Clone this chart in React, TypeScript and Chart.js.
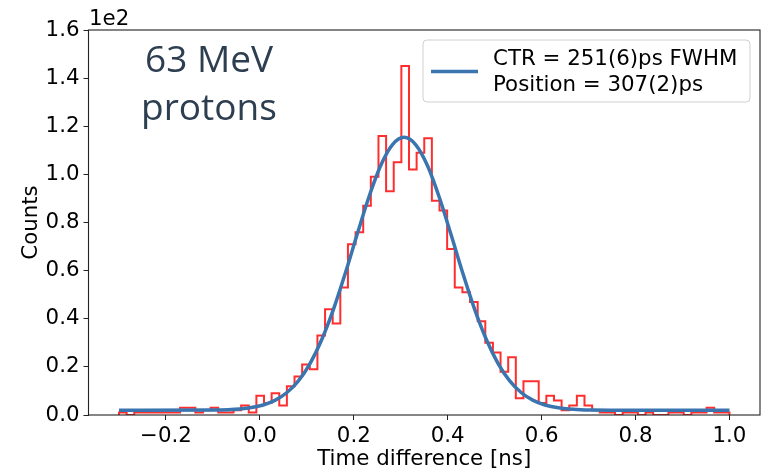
import { useEffect, useRef } from 'react';
import { Chart, registerables } from 'chart.js';

Chart.register(...registerables);

// ---- data ----
const BIN_START = -0.3;
const BIN_END = 1.0;
const binCounts = [
  1, 0, 1, 1, 1, 1, 1, 1, 3, 3, 1, 2, 3, 1, 1, 2, 4, 1, 8, 5,
  9, 4, 12, 16, 21, 19, 33, 44, 38, 53, 71, 76, 87, 99, 116, 93, 105, 145, 102, 109,
  115, 89, 85, 69, 53, 51, 47, 39, 30, 26, 18, 24, 7, 14, 14, 5, 8, 6, 2, 4,
  8, 4, 2, 1, 1, 0, 1, 1, 0, 1, 0, 0, 1, 1, 0, 1, 1, 3, 1, 1,
];
const fitX = [
  -0.3, -0.1, -0.068, -0.043, -0.018, 0.007, 0.032, 0.057, 0.082, 0.107, 0.132, 0.157,
  0.182, 0.207, 0.232, 0.257, 0.282, 0.307, 0.332, 0.357, 0.382, 0.407, 0.432, 0.457,
  0.482, 0.507, 0.532, 0.557, 0.582, 0.607, 0.632, 0.657, 0.682, 0.707, 0.8, 1.0,
];
const fitY = [
  2.0, 2.08, 2.23, 2.52, 3.09, 4.16, 6.07, 9.25, 14.2, 21.5, 31.5, 44.1,
  59.0, 75.0, 90.5, 103.6, 112.3, 115.4, 112.3, 103.6, 90.5, 75.0, 59.0, 44.1,
  31.5, 21.5, 14.2, 9.25, 6.07, 4.16, 3.09, 2.52, 2.23, 2.1, 2.0, 2.0,
];
const xTickValues = [-0.2, 0.0, 0.2, 0.4, 0.6, 0.8, 1.0];
const yTickValues = [0, 20, 40, 60, 80, 100, 120, 140, 160];
const legendLines = ['CTR = 251(6)ps FWHM', 'Position = 307(2)ps'];
const noteLines = ['63 MeV', 'protons'];
const xAxisLabel = 'Time difference [ns]';
const yAxisLabel = 'Counts';
const yOffsetLabel = '1e2';

const RED = 'rgba(255,0,0,0.82)';
const BLUE = '#3a75b0';
const FONT = '"DejaVu Sans", sans-serif';
const FS = 21.33;

export default function App() {
  const ref = useRef<HTMLCanvasElement | null>(null);

  useEffect(() => {
    if (!ref.current) return;
    const binWidth = (BIN_END - BIN_START) / binCounts.length;
    const histPoints = [
      { x: BIN_START, y: 0 },
      ...binCounts.map((c, i) => ({ x: BIN_START + i * binWidth, y: c })),
      { x: BIN_END, y: binCounts[binCounts.length - 1] },
      { x: BIN_END, y: 0 },
    ];
    const fitPoints = fitX.map((x, i) => ({ x, y: fitY[i] }));

    const overlay = {
      id: 'overlay',
      afterDatasetsDraw(chart: any) {
        const ctx = chart.ctx as CanvasRenderingContext2D;
        const a = chart.chartArea;
        ctx.save();
        // spines
        ctx.strokeStyle = '#222';
        ctx.lineWidth = 1.1;
        ctx.strokeRect(a.left, a.top, a.right - a.left, a.bottom - a.top);

        // legend
        const bx = 423, by = 40, bw = 327, bh = 62, r = 4;
        ctx.beginPath();
        ctx.moveTo(bx + r, by);
        ctx.lineTo(bx + bw - r, by);
        ctx.arcTo(bx + bw, by, bx + bw, by + r, r);
        ctx.lineTo(bx + bw, by + bh - r);
        ctx.arcTo(bx + bw, by + bh, bx + bw - r, by + bh, r);
        ctx.lineTo(bx + r, by + bh);
        ctx.arcTo(bx, by + bh, bx, by + bh - r, r);
        ctx.lineTo(bx, by + r);
        ctx.arcTo(bx, by, bx + r, by, r);
        ctx.closePath();
        ctx.fillStyle = 'rgba(255,255,255,0.8)';
        ctx.fill();
        ctx.strokeStyle = '#d0d0d0';
        ctx.lineWidth = 1;
        ctx.stroke();
        ctx.strokeStyle = BLUE;
        ctx.lineWidth = 3.5;
        ctx.beginPath();
        ctx.moveTo(431, 71.5);
        ctx.lineTo(478, 71.5);
        ctx.stroke();
        ctx.fillStyle = '#000';
        ctx.font = `${FS}px ${FONT}`;
        ctx.textAlign = 'left';
        ctx.textBaseline = 'alphabetic';
        ctx.fillText(legendLines[0], 493, 65);
        ctx.fillText(legendLines[1], 493, 90.5);

        // annotation
        ctx.fillStyle = '#2c3e50';
        ctx.font = '37px "Open Sans", sans-serif';
        ctx.textAlign = 'center';
        ctx.fillText(noteLines[0], 209, 72);
        ctx.fillText(noteLines[1], 209, 120);

        // offset label
        ctx.fillStyle = '#000';
        ctx.font = `${FS}px ${FONT}`;
        ctx.textAlign = 'left';
        ctx.fillText(yOffsetLabel, 89, 25);

        // axis labels
        ctx.textAlign = 'center';
        ctx.fillText(xAxisLabel, (a.left + a.right) / 2, 465);
        ctx.save();
        ctx.translate(37, (a.top + a.bottom) / 2);
        ctx.rotate(-Math.PI / 2);
        ctx.fillText(yAxisLabel, 0, 0);
        ctx.restore();
        ctx.restore();
      },
    };

    const chart = new Chart(ref.current, {
      type: 'line',
      data: {
        datasets: [
          {
            label: 'fit',
            data: fitPoints,
            borderColor: BLUE,
            borderWidth: 3.5,
            pointRadius: 0,
            fill: false,
            cubicInterpolationMode: 'monotone',
            order: 0,
          },
          {
            label: 'hist',
            data: histPoints,
            borderColor: RED,
            borderWidth: 2,
            pointRadius: 0,
            fill: false,
            stepped: 'before',
            order: 1,
          },
        ],
      },
      options: {
        animation: false,
        responsive: false,
        events: [],
        layout: { padding: { left: 0, right: 2, top: 30, bottom: 0 } },
        plugins: { legend: { display: false }, tooltip: { enabled: false }, title: { display: false } },
        scales: {
          x: {
            type: 'linear',
            min: -0.365,
            max: 1.065,
            afterBuildTicks: (s: any) => {
              s.ticks = xTickValues.map((v) => ({ value: v }));
            },
            afterFit: (s: any) => {
              s.height = 56;
            },
            ticks: {
              autoSkip: false,
              maxRotation: 0,
              padding: 4,
              color: '#000',
              font: { family: FONT, size: FS },
              callback: (v: any) => {
                const n = Number(v);
                const s = Math.abs(n).toFixed(1);
                return n < -1e-9 ? '\u2212' + s : s;
              },
            },
            grid: { drawOnChartArea: false, drawTicks: true, tickLength: 5, color: '#222', lineWidth: 1 },
            border: { display: false },
          },
          y: {
            type: 'linear',
            min: 0,
            max: 160,
            afterBuildTicks: (s: any) => {
              s.ticks = yTickValues.map((v) => ({ value: v }));
            },
            afterFit: (s: any) => {
              s.width = 88.5;
            },
            ticks: {
              autoSkip: false,
              padding: 4,
              color: '#000',
              font: { family: FONT, size: FS },
              callback: (v: any) => (Number(v) / 100).toFixed(1),
            },
            grid: { drawOnChartArea: false, drawTicks: true, tickLength: 5, color: '#222', lineWidth: 1 },
            border: { display: false },
          },
        },
      },
      plugins: [overlay],
    } as any);

    return () => chart.destroy();
  }, []);

  return (
    <div style={{ position: 'absolute', left: 0, top: 0, width: 762, height: 471, background: '#fff' }}>
      <canvas ref={ref} width={762} height={471} style={{ display: 'block' }} />
    </div>
  );
}
